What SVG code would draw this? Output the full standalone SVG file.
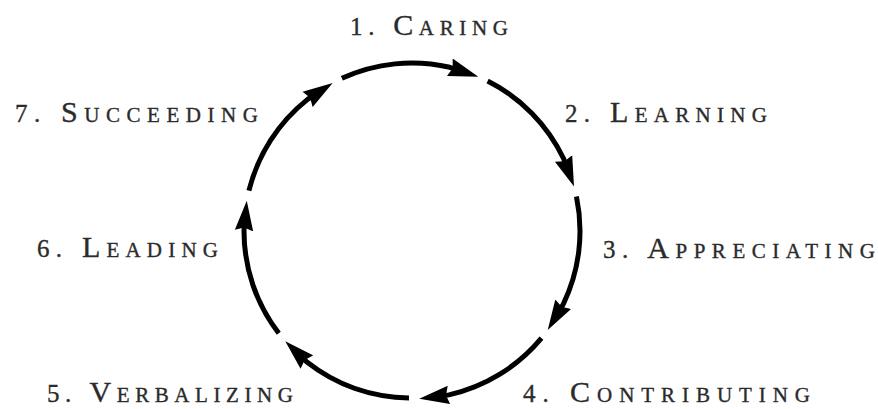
<svg xmlns="http://www.w3.org/2000/svg" width="878" height="409" viewBox="0 0 878 409">
<style>
.lbl{font-family:"Liberation Serif","Times New Roman",serif;font-size:30px;font-variant:small-caps;fill:#2b2b2b;stroke:#2b2b2b;stroke-width:0.35px;}
.num{font-size:25px;}
.arc{fill:none;stroke:#000;stroke-width:5;stroke-linecap:butt;}
</style>
<defs>
<marker id="ah" markerUnits="userSpaceOnUse" viewBox="0 0 30 20" markerWidth="30" markerHeight="20" refX="15" refY="10" orient="auto">
<path d="M0,0.8 L30,10 L0,19.2 L3,10 Z" fill="#000"/>
</marker>
</defs>
<rect width="878" height="409" fill="#fff"/>
<g id="connectors">
<path class="arc" marker-end="url(#ah)" d="M341.86,78.34 A168,168 0 0 1 449.81,67.31 L464.06,71.98"/>
<path class="arc" marker-end="url(#ah)" d="M487.62,80.98 A168,168 0 0 1 563.55,158.50 L568.79,172.56"/>
<path class="arc" marker-end="url(#ah)" d="M576.44,196.59 A168,168 0 0 1 563.19,304.29 L555.46,317.15"/>
<path class="arc" marker-end="url(#ah)" d="M541.44,338.11 A168,168 0 0 1 448.96,394.88 L434.09,396.87"/>
<path class="arc" marker-end="url(#ah)" d="M408.96,397.97 A168,168 0 0 1 306.92,362.08 L296.09,351.68"/>
<path class="arc" marker-end="url(#ah)" d="M278.77,333.34 A168,168 0 0 1 244.00,230.57 L245.38,215.63"/>
<path class="arc" marker-end="url(#ah)" d="M248.91,190.66 A168,168 0 0 1 307.59,99.38 L320.13,91.15"/>
</g>
<g id="n1"><text class="lbl" x="350" y="35" textLength="158" lengthAdjust="spacing"><tspan class="num">1.</tspan> Caring</text></g>
<g id="n2"><text class="lbl" x="565" y="122" textLength="202" lengthAdjust="spacing"><tspan class="num">2.</tspan> Learning</text></g>
<g id="n3"><text class="lbl" x="603" y="258" textLength="272" lengthAdjust="spacing"><tspan class="num">3.</tspan> Appreciating</text></g>
<g id="n4"><text class="lbl" x="523" y="402" textLength="287" lengthAdjust="spacing"><tspan class="num">4.</tspan> Contributing</text></g>
<g id="n5"><text class="lbl" x="47" y="402" textLength="246" lengthAdjust="spacing"><tspan class="num">5.</tspan> Verbalizing</text></g>
<g id="n6"><text class="lbl" x="37" y="257" textLength="181" lengthAdjust="spacing"><tspan class="num">6.</tspan> Leading</text></g>
<g id="n7"><text class="lbl" x="15" y="122" textLength="243" lengthAdjust="spacing"><tspan class="num">7.</tspan> Succeeding</text></g>
</svg>
